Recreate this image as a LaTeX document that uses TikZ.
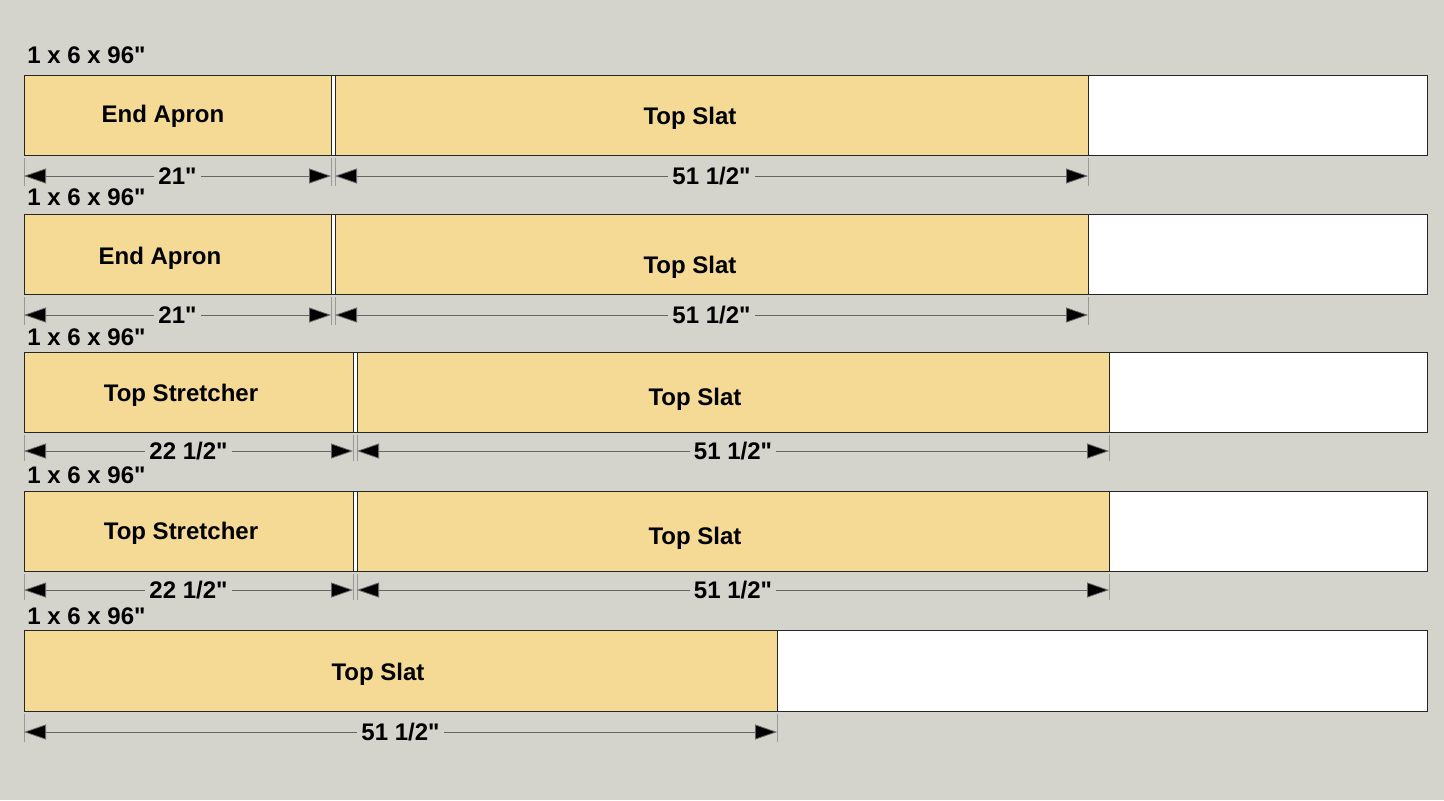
\documentclass[tikz,border=0pt]{standalone}
\usepackage{fontspec}
\setmainfont{Liberation Sans}
\usetikzlibrary{arrows.meta}
\definecolor{shopgrey}{RGB}{212,212,204}
\definecolor{pine}{RGB}{245,218,150}

\begin{document}
\begin{tikzpicture}[x=.5pt,y=-.5pt,
    board/.style={draw=black!85,fill=white,line width=.5pt},
    piece/.style={draw=black!85,fill=pine,line width=.5pt},
    lbl/.style={font=\bfseries\fontsize{12}{14}\selectfont,text=black,inner sep=0pt},
    ext/.style={draw=black!40,line width=.4pt},
    dim/.style={draw=black!60,line width=.4pt,
      {Triangle[length=11pt,width=7.5pt,fill=black]}-{Triangle[length=11pt,width=7.5pt,fill=black]}},
    dimtxt/.style={lbl,fill=shopgrey,inner xsep=2pt,inner ysep=1pt}]
    \fill[shopgrey] (0,0) rectangle (1444,800);
    \useasboundingbox (0,0) rectangle (1444,800);
    % board 1
    \node[lbl,anchor=base west] (stock1) at (27,63) {1 x 6 x 96\textquotedbl};
    \draw[board] (24,75) rectangle (1427,155);
    \draw[piece] (24,75) rectangle (331,155);
    \draw[piece] (335,75) rectangle (1088,155);
    \node[lbl] (apron1) at (163,116) {End Apron};
    \node[lbl] (slat1) at (690,118) {Top Slat};
    \draw[ext] (24,158) -- (24,186) (331,158) -- (331,186) (335,158) -- (335,186) (1088,158) -- (1088,186);
    \coordinate (a1) at (24,176);
    \coordinate (b1) at (331,176);
    \coordinate (c1) at (335,176);
    \coordinate (d1) at (1088,176);
    \draw[dim] (a1) -- node[dimtxt] (len1) {21\textquotedbl} (b1);
    \draw[dim] (c1) -- node[dimtxt] (len2) {51 1/2\textquotedbl} (d1);
    % board 2
    \node[lbl,anchor=base west] (stock2) at (27,205) {1 x 6 x 96\textquotedbl};
    \draw[board] (24,214) rectangle (1427,294);
    \draw[piece] (24,214) rectangle (331,294);
    \draw[piece] (335,214) rectangle (1088,294);
    \node[lbl] (apron2) at (160,258) {End Apron};
    \node[lbl] (slat2) at (690,267) {Top Slat};
    \draw[ext] (24,297) -- (24,325) (331,297) -- (331,325) (335,297) -- (335,325) (1088,297) -- (1088,325);
    \coordinate (a2) at (24,315);
    \coordinate (b2) at (331,315);
    \coordinate (c2) at (335,315);
    \coordinate (d2) at (1088,315);
    \draw[dim] (a2) -- node[dimtxt] (len3) {21\textquotedbl} (b2);
    \draw[dim] (c2) -- node[dimtxt] (len4) {51 1/2\textquotedbl} (d2);
    % board 3
    \node[lbl,anchor=base west] (stock3) at (27,345) {1 x 6 x 96\textquotedbl};
    \draw[board] (24,352) rectangle (1427,432);
    \draw[piece] (24,352) rectangle (353,432);
    \draw[piece] (357,352) rectangle (1109,432);
    \node[lbl] (stretch1) at (181,395) {Top Stretcher};
    \node[lbl] (slat3) at (695,399) {Top Slat};
    \draw[ext] (24,435) -- (24,461) (353,435) -- (353,461) (357,435) -- (357,461) (1109,435) -- (1109,461);
    \coordinate (a3) at (24,451);
    \coordinate (b3) at (353,451);
    \coordinate (c3) at (357,451);
    \coordinate (d3) at (1109,451);
    \draw[dim] (a3) -- node[dimtxt] (len5) {22 1/2\textquotedbl} (b3);
    \draw[dim] (c3) -- node[dimtxt] (len6) {51 1/2\textquotedbl} (d3);
    % board 4
    \node[lbl,anchor=base west] (stock4) at (27,483) {1 x 6 x 96\textquotedbl};
    \draw[board] (24,491) rectangle (1427,571);
    \draw[piece] (24,491) rectangle (353,571);
    \draw[piece] (357,491) rectangle (1109,571);
    \node[lbl] (stretch2) at (181,533) {Top Stretcher};
    \node[lbl] (slat4) at (695,538) {Top Slat};
    \draw[ext] (24,574) -- (24,600) (353,574) -- (353,600) (357,574) -- (357,600) (1109,574) -- (1109,600);
    \coordinate (a4) at (24,590);
    \coordinate (b4) at (353,590);
    \coordinate (c4) at (357,590);
    \coordinate (d4) at (1109,590);
    \draw[dim] (a4) -- node[dimtxt] (len7) {22 1/2\textquotedbl} (b4);
    \draw[dim] (c4) -- node[dimtxt] (len8) {51 1/2\textquotedbl} (d4);
    % board 5
    \node[lbl,anchor=base west] (stock5) at (27,624) {1 x 6 x 96\textquotedbl};
    \draw[board] (24,630) rectangle (1427,711);
    \draw[piece] (24,630) rectangle (777,711);
    \node[lbl] (slat5) at (378,674) {Top Slat};
    \draw[ext] (24,714) -- (24,742) (777,714) -- (777,742);
    \coordinate (a5) at (24,732);
    \coordinate (b5) at (777,732);
    \draw[dim] (a5) -- node[dimtxt] (len9) {51 1/2\textquotedbl} (b5);
  \end{tikzpicture}
\end{document}
